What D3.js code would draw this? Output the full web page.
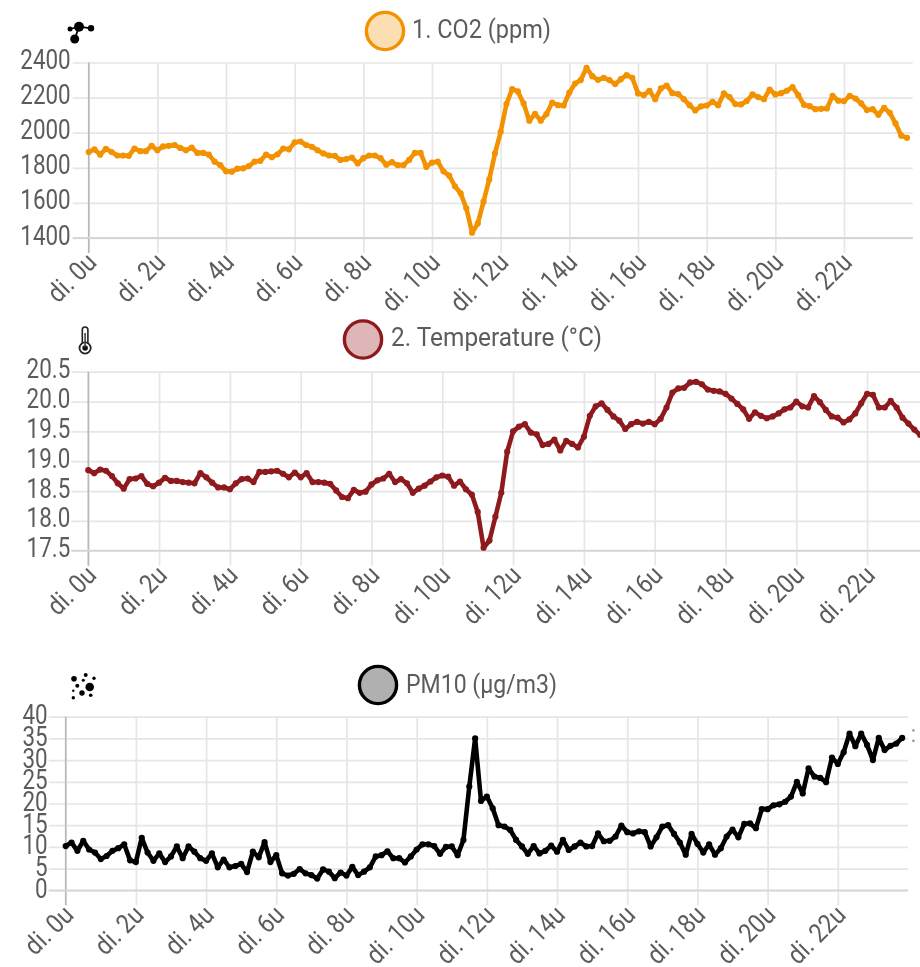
<!DOCTYPE html>
<html>
<head>
<meta charset="utf-8">
<script src="https://cdnjs.cloudflare.com/ajax/libs/d3/7.8.5/d3.min.js"></script>
<style>
html,body{margin:0;padding:0;background:#fff;overflow:hidden}
svg{display:block;filter:blur(0.55px)}
text{font-family:Roboto,"Open Sans",sans-serif;fill:#5c5c5c}
.grid line{stroke:#e6e6e6;stroke-width:1.7}
.grid path{display:none}
</style>
</head>
<body>
<svg id="chart" width="920" height="967"></svg>
<script>
const hourLabels = ["di. 0u","di. 2u","di. 4u","di. 6u","di. 8u","di. 10u","di. 12u","di. 14u","di. 16u","di. 18u","di. 20u","di. 22u"];
const co2Ticks = [1400,1600,1800,2000,2200,2400];
const tempTicks = [17.5,18,18.5,19,19.5,20,20.5];
const pmTicks = [0,5,10,15,20,25,30,35,40];
const co2Values = [1890,1905,1875,1908,1890,1870,1870,1868,1910,1895,1895,1925,1900,1922,1925,1930,1913,1900,1915,1885,1885,1875,1835,1815,1780,1778,1795,1797,1810,1835,1840,1875,1860,1877,1910,1905,1945,1950,1930,1920,1900,1882,1870,1868,1845,1850,1858,1825,1855,1870,1870,1855,1818,1832,1815,1815,1845,1885,1885,1805,1830,1835,1780,1755,1695,1655,1569,1430,1483,1607,1734,1882,2005,2163,2248,2235,2167,2068,2108,2068,2106,2172,2157,2155,2229,2280,2300,2370,2322,2301,2313,2300,2277,2305,2328,2313,2224,2214,2239,2191,2252,2269,2225,2220,2191,2157,2127,2150,2155,2176,2157,2224,2203,2163,2161,2180,2218,2203,2191,2246,2218,2225,2239,2260,2214,2159,2151,2134,2136,2138,2210,2182,2180,2210,2195,2167,2129,2134,2102,2142,2113,2053,1983,1971];
const tempValues = [18.85,18.80,18.86,18.84,18.75,18.63,18.54,18.70,18.71,18.75,18.62,18.58,18.64,18.72,18.67,18.67,18.65,18.64,18.63,18.80,18.73,18.64,18.56,18.56,18.53,18.63,18.70,18.71,18.65,18.82,18.82,18.83,18.84,18.79,18.73,18.81,18.73,18.80,18.65,18.65,18.64,18.62,18.51,18.40,18.38,18.52,18.47,18.49,18.61,18.68,18.71,18.79,18.65,18.70,18.63,18.47,18.54,18.59,18.66,18.73,18.76,18.74,18.59,18.66,18.53,18.44,18.15,17.55,17.67,18.07,18.47,19.16,19.50,19.58,19.62,19.48,19.45,19.27,19.29,19.36,19.18,19.34,19.29,19.23,19.41,19.76,19.92,19.97,19.86,19.75,19.68,19.54,19.62,19.66,19.63,19.66,19.62,19.71,19.90,20.15,20.22,20.23,20.32,20.33,20.29,20.20,20.18,20.17,20.13,20.05,19.96,19.87,19.71,19.82,19.76,19.72,19.75,19.80,19.87,19.90,20.00,19.92,19.90,20.09,19.99,19.86,19.75,19.73,19.65,19.70,19.80,19.97,20.13,20.11,19.90,19.90,20.01,19.90,19.73,19.63,19.53,19.44,19.38,19.30];
const pmValues = [10.2,11.0,9.1,11.4,9.4,8.7,7.2,7.9,9.1,9.7,10.6,6.9,6.5,12.1,8.7,6.8,8.5,6.5,7.8,10.1,7.4,10.1,8.9,7.4,6.8,8.5,5.3,7.1,5.3,5.6,6.1,4.2,8.9,7.6,11.1,6.5,8.1,3.9,3.4,3.8,4.9,3.9,3.5,2.7,4.8,4.3,2.8,4.1,3.4,5.4,3.5,4.3,5.3,7.8,8.1,9.0,7.4,7.4,6.4,7.8,9.4,10.6,10.6,10.2,8.4,10.0,10.1,8.1,11.6,23.9,35.0,20.6,21.6,18.9,15.0,14.7,13.9,11.6,10.1,8.4,10.2,8.5,9.1,10.3,8.9,11.6,9.3,10.1,11.0,10.1,10.2,13.1,11.3,11.4,12.4,14.9,13.4,13.1,13.6,13.4,10.1,12.2,14.7,15.0,13.0,11.0,8.2,13.0,10.7,8.7,10.6,8.2,9.7,12.4,14.0,12.2,15.3,15.4,14.3,18.7,18.7,19.6,19.8,20.4,21.6,25.0,22.3,28.1,26.2,25.9,24.9,30.6,29.1,31.8,36.1,33.2,36.1,33.5,30.0,35.1,32.3,33.3,33.8,35.1];
const titles = ["1. CO2 (ppm)","2. Temperature (°C)","PM10 (µg/m3)"];

const svg = d3.select("#chart");
const tickIndex = hourLabels.map((_, i) => i * 12);

function panel(o) {
  const x = d3.scaleLinear().domain([0, 144]).range([o.left, o.right]);
  const y = d3.scaleLinear().domain(o.domain).range([o.bottom, o.top]);
  const H = o.bottom - o.top, W = o.right - o.left;
  const g = svg.append("g");

  const gy = g.append("g").attr("class","grid").attr("transform",`translate(${o.right},0)`)
    .call(d3.axisLeft(y).tickValues(o.ticks).tickFormat(o.fmt).tickSize(W + o.tickLeft).tickPadding(0));
  gy.selectAll("text")
    .attr("text-anchor","end").attr("font-size",27).attr("dy",null)
    .attr("transform", function(){
      const px = +d3.select(this).attr("x");
      d3.select(this).attr("x",null);
      return `translate(${px + o.labelShift},${o.labelDy}) scale(.83,1)`;
    });

  const gx = g.append("g").attr("class","grid").attr("transform",`translate(0,${o.top})`)
    .call(d3.axisBottom(x).tickValues(tickIndex).tickFormat((d,i)=>hourLabels[i]).tickSize(H + 15).tickPadding(0));
  gx.selectAll("text")
    .attr("text-anchor","end").attr("font-size",26.5).attr("dy",null).attr("y",null)
    .attr("transform",`translate(9,${H + 26}) rotate(-45) scale(.88,1)`);

  g.append("line").attr("x1",o.left).attr("x2",o.left).attr("y1",o.top).attr("y2",o.bottom+15).attr("stroke","#b8b8b8").attr("stroke-width",1.6);
  g.append("line").attr("x1",o.left-o.tickLeft).attr("x2",o.right).attr("y1",o.bottom).attr("y2",o.bottom).attr("stroke","#d6d6d6").attr("stroke-width",1.8);

  const line = d3.line().x((d,i)=>x(i)).y(d=>y(d));
  g.append("path").datum(o.values).attr("d",line).attr("fill","none").attr("stroke",o.color).attr("stroke-width",4.6).attr("stroke-linejoin","round");
  g.selectAll("circle.pt").data(o.values).join("circle").attr("class","pt")
    .attr("cx",(d,i)=>x(i)).attr("cy",d=>y(d)).attr("r",3.1).attr("fill",o.color);

  g.append("circle").attr("cx",o.lx).attr("cy",o.ly).attr("r",o.lr)
    .attr("fill",o.fill).attr("stroke",o.color).attr("stroke-width",3.4);
  g.append("text").attr("x",o.tx).attr("y",o.ty).attr("font-size",26)
    .attr("textLength",o.tw).attr("lengthAdjust","spacingAndGlyphs").text(o.title);
}

panel({values:co2Values,ticks:co2Ticks,domain:[1400,2400],fmt:d3.format("d"),color:"#f39200",fill:"#fbdeb1",
  left:88.7,right:912.7,top:62.5,bottom:238,tickLeft:16,labelShift:-2,labelDy:6,
  lx:385,ly:31,lr:18.6,tx:412,ty:38,tw:139,title:titles[0]});
panel({values:tempValues,ticks:tempTicks,domain:[17.5,20.5],fmt:d3.format(".1f"),color:"#8e1a1e",fill:"#deb6b7",
  left:88.3,right:937.9,top:371.7,bottom:550.7,tickLeft:17,labelShift:-1,labelDy:6,
  lx:363,ly:339.5,lr:18.6,tx:391,ty:346,tw:211,title:titles[1]});
panel({values:pmValues,ticks:pmTicks,domain:[0,40],fmt:d3.format("d"),color:"#000",fill:"#b0b0b0",
  left:65.7,right:908,top:716.7,bottom:890.3,tickLeft:17,labelShift:-1,labelDy:7,
  lx:378,ly:685,lr:18.6,tx:406,ty:692.7,tw:151,title:titles[2]});

// stray clipped tick mark at the right of the third chart
svg.append("text").attr("x",910.5).attr("y",742).attr("font-size",24).style("fill","#999").text(":");

// icons
const ico = svg.append("g").attr("fill","#000").attr("stroke","none");
const co2Atoms = [[79,26.7,5],[91,28.3,3.2],[70,29,2.5],[74.7,39,4.5]];
ico.append("path").attr("d","M70,29L79,26.7L91,28.3M79,26.7L74.7,39").attr("stroke","#000").attr("stroke-width",1.8).attr("fill","none");
ico.selectAll("circle.a").data(co2Atoms).join("circle").attr("class","a").attr("cx",d=>d[0]).attr("cy",d=>d[1]).attr("r",d=>d[2]);
const dust = [[74,678.7,2.8],[85.7,675,2],[94,678.3,1.7],[83.3,680.3,1.5],[77.3,685.7,2],[89.7,687,4.3],[73.3,690.7,1.2],[82,693,2.7],[90.7,695.3,1.8],[73.3,697.7,1.7]];
ico.selectAll("circle.d").data(dust).join("circle").attr("class","d").attr("cx",d=>d[0]).attr("cy",d=>d[1]).attr("r",d=>d[2]);
const th = svg.append("g");
th.append("rect").attr("x",82.3).attr("y",327).attr("width",5.6).attr("height",20).attr("rx",2.8).attr("fill","#fff").attr("stroke","#222").attr("stroke-width",1.6);
th.append("circle").attr("cx",85.1).attr("cy",348).attr("r",5.6).attr("fill","#fff").attr("stroke","#222").attr("stroke-width",1.8);
th.append("circle").attr("cx",85.1).attr("cy",348).attr("r",2.8).attr("fill","#111");
th.append("rect").attr("x",84.3).attr("y",333).attr("width",1.6).attr("height",14).attr("fill","#444");
</script>
</body>
</html>
